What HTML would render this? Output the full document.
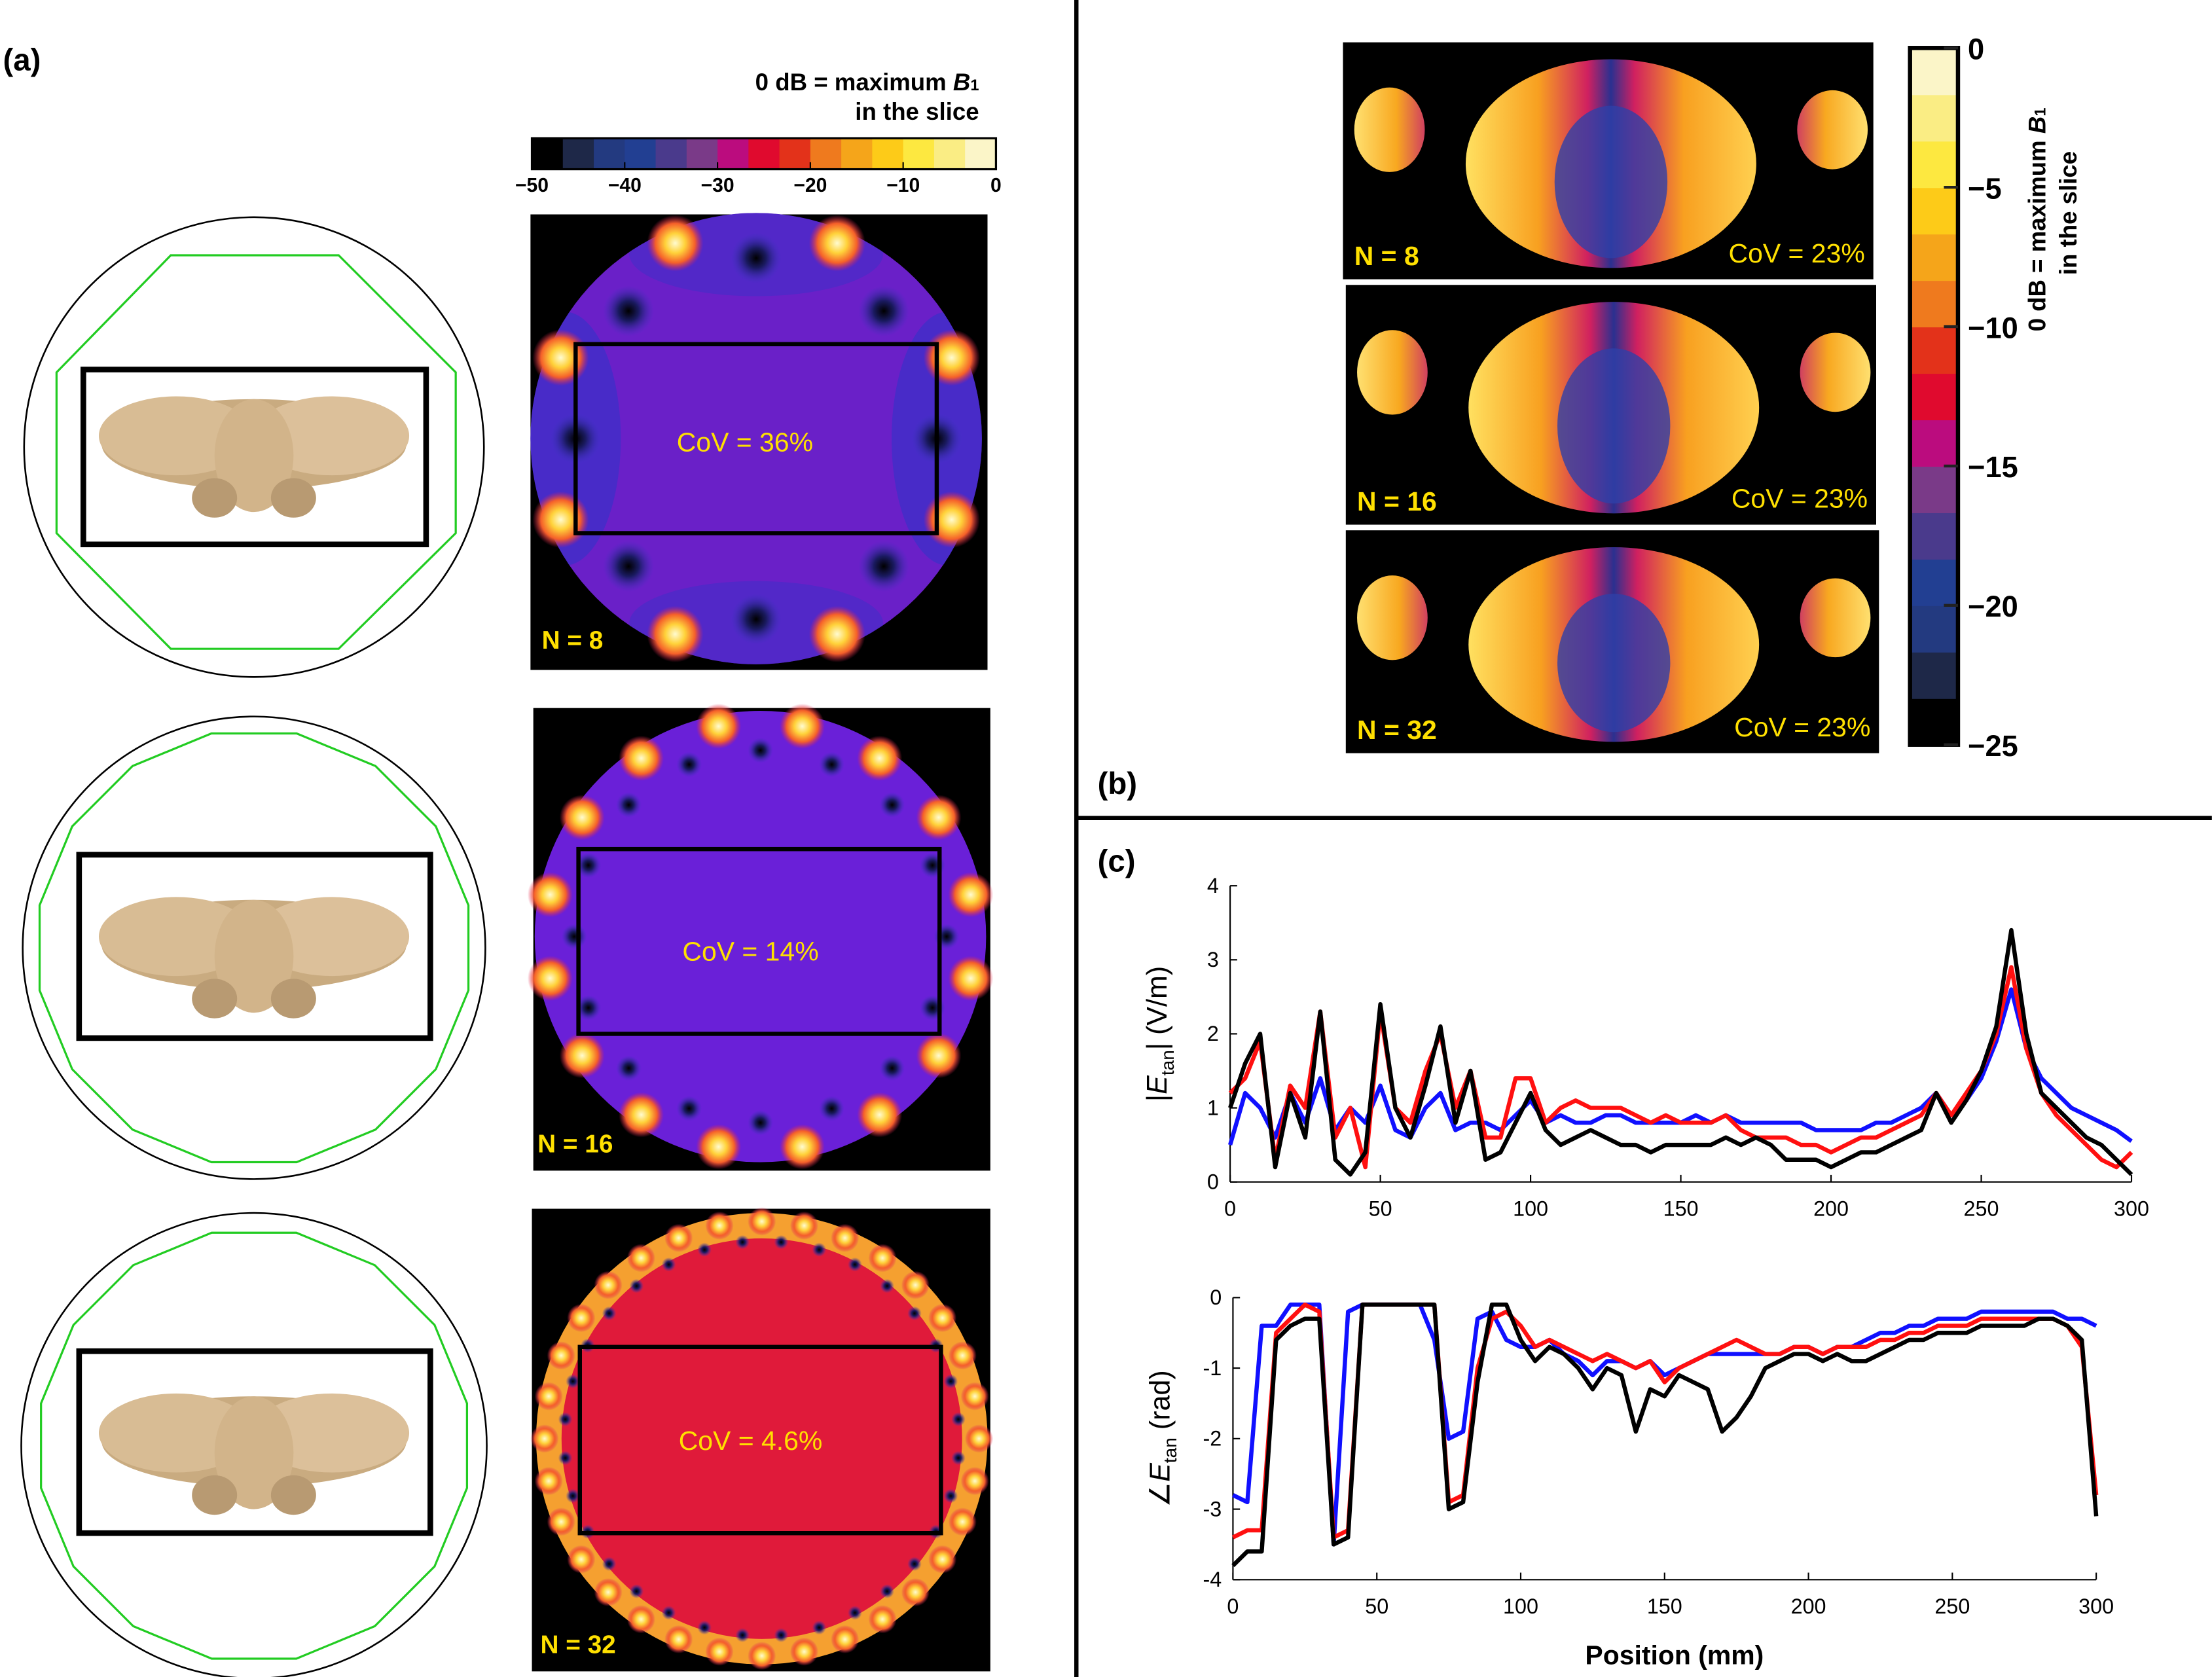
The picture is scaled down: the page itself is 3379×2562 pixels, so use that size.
<!DOCTYPE html>
<html><head><meta charset="utf-8"><style>
html,body{margin:0;padding:0;background:#fff}
svg{display:block}
text{font-family:"Liberation Sans",sans-serif}
</style></head><body>
<svg id="root" width="3379" height="2562" viewBox="0 0 1568 1189" xmlns="http://www.w3.org/2000/svg">
<defs>
<radialGradient id="hot"><stop offset="0" stop-color="#fffbd0"/><stop offset="0.35" stop-color="#ffd23a"/><stop offset="0.7" stop-color="#f5602a"/><stop offset="1" stop-color="#e0205a" stop-opacity="0"/></radialGradient>
<radialGradient id="cold"><stop offset="0" stop-color="#000"/><stop offset="0.4" stop-color="#1a1a60"/><stop offset="1" stop-color="#3a35c0" stop-opacity="0"/></radialGradient>
<linearGradient id="brainL" x1="0" x2="1"><stop offset="0" stop-color="#ffe060"/><stop offset="0.25" stop-color="#f8a020"/><stop offset="0.42" stop-color="#d02060"/><stop offset="0.5" stop-color="#2a3090"/><stop offset="0.58" stop-color="#d02060"/><stop offset="0.75" stop-color="#f8a020"/><stop offset="1" stop-color="#ffd050"/></linearGradient>
<linearGradient id="side" x1="0" x2="1"><stop offset="0" stop-color="#ffe070"/><stop offset="0.6" stop-color="#f8a820"/><stop offset="1" stop-color="#d04060"/></linearGradient>
<clipPath id="c8"><circle cx="536" cy="311" r="160"/></clipPath>
<g id="body"><ellipse cx="0" cy="0" rx="108" ry="32" fill="#c9ab80"/><ellipse cx="-55" cy="-6" rx="55" ry="28" fill="#d8bc94"/><ellipse cx="55" cy="-6" rx="55" ry="28" fill="#dcc09a"/><ellipse cx="0" cy="8" rx="28" ry="40" fill="#d2b48a"/><ellipse cx="-28" cy="38" rx="16" ry="14" fill="#b89a72"/><ellipse cx="28" cy="38" rx="16" ry="14" fill="#b89a72"/></g>
</defs>

<line x1="763" y1="0" x2="763" y2="1189" stroke="#000" stroke-width="3"/>
<line x1="763" y1="580" x2="1568" y2="580" stroke="#000" stroke-width="3"/>
<text x="2" y="50" font-size="22" font-weight="bold">(a)</text>
<text x="778" y="563" font-size="22" font-weight="bold">(b)</text>
<text x="778" y="618" font-size="22" font-weight="bold">(c)</text>

<g>
<circle cx="180" cy="317" r="163" fill="none" stroke="#000" stroke-width="1.2"/>
<polygon points="121,181 240,181 323,264 323,378 240,460 121,460 40,378 40,264" fill="none" stroke="#2c2" stroke-width="1.5"/>
<use href="#body" x="180" y="315"/>
<rect x="59" y="262" width="243" height="124" fill="none" stroke="#000" stroke-width="4"/></g>
<g>
<circle cx="180" cy="672" r="164" fill="none" stroke="#000" stroke-width="1.2"/>
<polygon id="poly16" fill="none" stroke="#2c2" stroke-width="1.5"/>
<use href="#body" x="180" y="670"/>
<rect x="56" y="606" width="249" height="130" fill="none" stroke="#000" stroke-width="4"/></g>
<g>
<circle cx="180" cy="1025" r="165" fill="none" stroke="#000" stroke-width="1.2"/>
<polygon id="poly32" fill="none" stroke="#2c2" stroke-width="1.5"/>
<use href="#body" x="180" y="1022"/>
<rect x="56" y="958" width="249" height="129" fill="none" stroke="#000" stroke-width="4"/></g>

<text x="694" y="64" text-anchor="end" font-size="17" font-weight="bold">0 dB = maximum <tspan font-style="italic">B</tspan><tspan font-size="11">1</tspan></text>
<text x="694" y="85" text-anchor="end" font-size="17" font-weight="bold">in the slice</text>
<g id="hbar"></g>
<g id="hticks" font-size="14" font-weight="bold" text-anchor="middle"></g>

<g>
<rect x="376" y="152" width="324" height="323" fill="#000"/>
<circle cx="536" cy="311" r="160" fill="#6a20c8"/>
<g clip-path="url(#c8)">
<ellipse cx="400" cy="311" rx="40" ry="90" fill="#3a30c8" opacity="0.7"/>
<ellipse cx="672" cy="311" rx="40" ry="90" fill="#3a30c8" opacity="0.7"/>
<ellipse cx="536" cy="180" rx="90" ry="30" fill="#3a30c8" opacity="0.5"/>
<ellipse cx="536" cy="442" rx="90" ry="30" fill="#3a30c8" opacity="0.5"/>
</g>
<g id="h8"></g>
<rect x="408" y="244" width="256" height="134" fill="none" stroke="#000" stroke-width="3"/>
<text x="528" y="320" text-anchor="middle" font-size="19" fill="#ffe000">CoV = 36%</text>
<text x="384" y="460" font-size="18" font-weight="bold" fill="#ffe000">N = 8</text></g>
<g>
<rect x="378" y="502" width="324" height="328" fill="#000"/>
<circle cx="539" cy="664" r="160" fill="#6a20d8"/>
<g id="h16"></g>
<rect x="410" y="602" width="256" height="131" fill="none" stroke="#000" stroke-width="3"/>
<text x="532" y="681" text-anchor="middle" font-size="19" fill="#ffe000">CoV = 14%</text>
<text x="381" y="817" font-size="18" font-weight="bold" fill="#ffe000">N = 16</text></g>
<g>
<rect x="377" y="857" width="325" height="328" fill="#000"/>
<circle cx="540" cy="1020" r="160" fill="#f5a030"/>
<circle cx="540" cy="1020" r="142" fill="#e01a3a"/>
<g id="h32"></g>
<rect x="411" y="955" width="256" height="132" fill="none" stroke="#000" stroke-width="3"/>
<text x="532" y="1028" text-anchor="middle" font-size="19" fill="#ffe000">CoV = 4.6%</text>
<text x="383" y="1172" font-size="18" font-weight="bold" fill="#ffe000">N = 32</text></g>

<g id="brains"></g>
<g id="vbar"></g>
<g id="vticks" font-size="21" font-weight="bold"></g>
<text transform="translate(1450,235) rotate(-90)" font-size="17" font-weight="bold">0 dB = maximum <tspan font-style="italic">B</tspan><tspan font-size="11">1</tspan></text>
<text transform="translate(1472,235) rotate(-90)" font-size="17" font-weight="bold" dx="40">in the slice</text>

<g id="plots"></g>
</svg>
<script>
const positions=[0,5,10,15,20,25,30,35,40,45,50,55,60,65,70,75,80,85,90,95,100,105,110,115,120,125,130,135,140,145,150,155,160,165,170,175,180,185,190,195,200,205,210,215,220,225,230,235,240,245,250,255,260,265,270,275,280,285,290,295,300];
const magRed=[1.2,1.4,1.9,0.3,1.3,1.0,2.3,0.6,1.0,0.2,2.3,1.0,0.8,1.5,2.0,1.0,1.5,0.6,0.6,1.4,1.4,0.8,1.0,1.1,1.0,1.0,1.0,0.9,0.8,0.9,0.8,0.8,0.8,0.9,0.7,0.6,0.6,0.6,0.5,0.5,0.4,0.5,0.6,0.6,0.7,0.8,0.9,1.2,0.9,1.2,1.5,2.0,2.9,1.8,1.2,0.9,0.7,0.5,0.3,0.2,0.4];
const magBlue=[0.5,1.2,1.0,0.6,1.2,0.8,1.4,0.7,1.0,0.8,1.3,0.7,0.6,1.0,1.2,0.7,0.8,0.8,0.7,0.9,1.1,0.8,0.9,0.8,0.8,0.9,0.9,0.8,0.8,0.8,0.8,0.9,0.8,0.9,0.8,0.8,0.8,0.8,0.8,0.7,0.7,0.7,0.7,0.8,0.8,0.9,1.0,1.2,0.9,1.1,1.4,1.9,2.6,1.8,1.4,1.2,1.0,0.9,0.8,0.7,0.55];
const magBlack=[1.0,1.6,2.0,0.2,1.2,0.6,2.3,0.3,0.1,0.4,2.4,1.0,0.6,1.3,2.1,0.8,1.5,0.3,0.4,0.8,1.2,0.7,0.5,0.6,0.7,0.6,0.5,0.5,0.4,0.5,0.5,0.5,0.5,0.6,0.5,0.6,0.5,0.3,0.3,0.3,0.2,0.3,0.4,0.4,0.5,0.6,0.7,1.2,0.8,1.1,1.5,2.1,3.4,2.0,1.2,1.0,0.8,0.6,0.5,0.3,0.1];
const phRed=[-3.4,-3.3,-3.3,-0.5,-0.3,-0.1,-0.2,-3.4,-3.3,-0.1,-0.1,-0.1,-0.1,-0.1,-0.1,-2.9,-2.8,-1.0,-0.3,-0.2,-0.4,-0.7,-0.6,-0.7,-0.8,-0.9,-0.8,-0.9,-1.0,-0.9,-1.2,-1.0,-0.9,-0.8,-0.7,-0.6,-0.7,-0.8,-0.8,-0.7,-0.7,-0.8,-0.7,-0.7,-0.7,-0.6,-0.6,-0.5,-0.5,-0.4,-0.4,-0.4,-0.3,-0.3,-0.3,-0.3,-0.3,-0.3,-0.4,-0.7,-2.8];
const phBlue=[-2.8,-2.9,-0.4,-0.4,-0.1,-0.1,-0.1,-3.5,-0.2,-0.1,-0.1,-0.1,-0.1,-0.1,-0.6,-2.0,-1.9,-0.3,-0.2,-0.6,-0.7,-0.7,-0.6,-0.8,-0.9,-1.1,-0.9,-0.9,-1.0,-0.9,-1.1,-1.0,-0.9,-0.8,-0.8,-0.8,-0.8,-0.8,-0.8,-0.7,-0.7,-0.8,-0.7,-0.7,-0.6,-0.5,-0.5,-0.4,-0.4,-0.3,-0.3,-0.3,-0.2,-0.2,-0.2,-0.2,-0.2,-0.2,-0.3,-0.3,-0.4];
const phBlack=[-3.8,-3.6,-3.6,-0.6,-0.4,-0.3,-0.3,-3.5,-3.4,-0.1,-0.1,-0.1,-0.1,-0.1,-0.1,-3.0,-2.9,-1.2,-0.1,-0.1,-0.6,-0.9,-0.7,-0.8,-1.0,-1.3,-1.0,-1.1,-1.9,-1.3,-1.4,-1.1,-1.2,-1.3,-1.9,-1.7,-1.4,-1.0,-0.9,-0.8,-0.8,-0.9,-0.8,-0.9,-0.9,-0.8,-0.7,-0.6,-0.6,-0.5,-0.5,-0.5,-0.4,-0.4,-0.4,-0.4,-0.3,-0.3,-0.4,-0.6,-3.1];
const xTicks=[0,50,100,150,200,250,300];
const magTicks=[0,1,2,3,4];
const phTicks=[0,-1,-2,-3,-4];
const hbarTicks=[-50,-40,-30,-20,-10,0];
const vbarTicks=[0,-5,-10,-15,-20,-25];
const cmap=['#000000','#1e2848','#233a80','#223f92','#4a3a8c','#7a3a88','#bb0c7e','#e00a2e','#e3321a','#ef7a1e','#f5a51a','#fdcb18','#fde840','#faed84','#fbf5c8'];
const NS='http://www.w3.org/2000/svg';
function mk(tag,attrs,parent,txt){const e=document.createElementNS(NS,tag);for(const k in attrs)e.setAttribute(k,attrs[k]);if(txt!==undefined)e.textContent=txt;parent.appendChild(e);return e;}
const plots=document.getElementById('plots');

function ngon(id,cx,cy,r,n){const pts=[];for(let i=0;i<n;i++){const a=2*Math.PI*i/n+Math.PI/n;pts.push((cx+r*Math.cos(a)).toFixed(1)+','+(cy+r*Math.sin(a)).toFixed(1));}document.getElementById(id).setAttribute('points',pts.join(' '));}
ngon('poly16',180,672,155,16);
ngon('poly32',180,1025,154,16);

const hb=document.getElementById('hbar');
const hw=329/cmap.length;
cmap.forEach((c,i)=>mk('rect',{x:377+i*hw,y:98,width:hw+0.5,height:22,fill:c},hb));
mk('rect',{x:377,y:98,width:329,height:22,fill:'none',stroke:'#000',"stroke-width":1.5},hb);
const ht=document.getElementById('hticks');
hbarTicks.forEach(v=>{const x=377+(v+50)/50*329;
 const t=mk('text',{x:x,y:136},ht,String(v).replace('-','−'));
 
 
 mk('line',{x1:x,x2:x,y1:120,y2:115,stroke:'#000'},ht);});
const vb=document.getElementById('vbar');
const vh=494/cmap.length;
cmap.forEach((c,i)=>mk('rect',{x:1354,y:528-(i+1)*vh,width:34,height:vh+0.5,fill:c},vb));
mk('rect',{x:1354,y:34,width:34,height:494,fill:'none',stroke:'#000',"stroke-width":3},vb);
const vt=document.getElementById('vticks');
vbarTicks.forEach(v=>{const y=34+(-v)/25*494;
 const t=mk('text',{x:1395,y:y+8},vt,String(v).replace('-','−'));
 
 
 mk('line',{x1:1378,x2:1388,y1:y,y2:y,stroke:'#222',"stroke-width":2},vt);});

function spots(id,cx,cy,r,n,hr,cold,coldR,offset){const g=document.getElementById(id);
 for(let i=0;i<n;i++){const a=2*Math.PI*i/n+offset;
  mk('circle',{cx:cx+r*Math.cos(a),cy:cy+r*Math.sin(a),r:hr,fill:'url(#hot)'},g);
  if(cold){const b=a+Math.PI/n;mk('circle',{cx:cx+coldR*Math.cos(b),cy:cy+coldR*Math.sin(b),r:cold,fill:'url(#cold)'},g);}}}
spots('h8',536,311,150,8,20,18,128,Math.PI/8);
spots('h16',539,664,152,16,16,9,132,Math.PI/16);
spots('h32',540,1020,154,32,10,5,140,0);

const brains=document.getElementById('brains');
[[952,30,376,168,'N = 8','CoV = 23%'],[954,202,376,170,'N = 16','CoV = 23%'],[954,376,378,158,'N = 32','CoV = 23%']].forEach((b,i)=>{
 const g=mk('g',{},brains);
 
 
 const [x,y,w,h,n,c]=b;
 mk('rect',{x:x,y:y,width:w,height:h,fill:'#000'},g);
 mk('ellipse',{cx:x+190,cy:y+h/2+2,rx:103,ry:h/2-10,fill:'url(#brainL)'},g);
 mk('ellipse',{cx:x+190,cy:y+h/2+15,rx:40,ry:h/2-30,fill:'#3040a8',opacity:0.8},g);
 mk('ellipse',{cx:x+33,cy:y+62,rx:25,ry:30,fill:'url(#side)'},g);
 mk('ellipse',{cx:x+347,cy:y+62,rx:25,ry:28,fill:'url(#side)',transform:`rotate(180 ${x+347} ${y+62})`},g);
 mk('text',{x:x+8,y:y+h-10,"font-size":19,"font-weight":"bold",fill:'#ffe000'},g,n);
 mk('text',{x:x+w-6,y:y+h-12,"font-size":19,fill:'#ffe000',"text-anchor":"end"},g,c);
});

function plot(name,x0,x1,yTop,yBot,vmin,vmax,ticks,series,ylab){
 const g=mk('g',{},plots);
 
 
 const sx=v=>x0+(v/300)*(x1-x0);
 const sy=v=>yBot-(v-vmin)/(vmax-vmin)*(yBot-yTop);
 mk('line',{x1:x0,x2:x0,y1:yTop,y2:yBot,stroke:'#000'},g);
 mk('line',{x1:x0,x2:x1,y1:yBot,y2:yBot,stroke:'#000'},g);
 ticks.forEach(v=>{const y=sy(v);mk('line',{x1:x0,x2:x0+5,y1:y,y2:y,stroke:'#000'},g);
  const t=mk('text',{x:x0-8,y:y+5,"font-size":15,"text-anchor":"end"},g,String(v));
  
  });
 xTicks.forEach(v=>{const x=sx(v);mk('line',{x1:x,x2:x,y1:yBot,y2:yBot-5,stroke:'#000'},g);
  const t=mk('text',{x:x,y:yBot+24,"font-size":15,"text-anchor":"middle"},g,String(v));
  
  });
 series.forEach(([vals,col,nm])=>{
  const p=mk('polyline',{points:vals.map((v,i)=>sx(positions[i])+','+sy(v)).join(' '),fill:'none',stroke:col,"stroke-width":3,"stroke-linejoin":"round"},g);
  
  });
 const yl=mk('text',{transform:`translate(${x0-45},${(yTop+yBot)/2}) rotate(-90)`,"font-size":20,"text-anchor":"middle","font-family":"Liberation Serif, serif"},g);
 
 
 yl.innerHTML=ylab;
}
plot('magnitude-plot',872,1511,628,838,0,4,magTicks,[[magBlue,'#1010ff','line-blue'],[magRed,'#ff1010','line-red'],[magBlack,'#000','line-black']],'|<tspan font-style="italic">E</tspan><tspan font-size="13" dy="5">tan</tspan><tspan dy="-5">| (V/m)</tspan>');
plot('phase-plot',874,1486,920,1120,-4,0,phTicks,[[phBlue,'#1010ff','line-blue'],[phRed,'#ff1010','line-red'],[phBlack,'#000','line-black']],'∠<tspan font-style="italic">E</tspan><tspan font-size="13" dy="5">tan</tspan><tspan dy="-5"> (rad)</tspan>');
const xt=mk('text',{x:1187,y:1180,"font-size":19,"font-weight":"bold","text-anchor":"middle"},plots,'Position (mm)');


</script>
</body></html>
